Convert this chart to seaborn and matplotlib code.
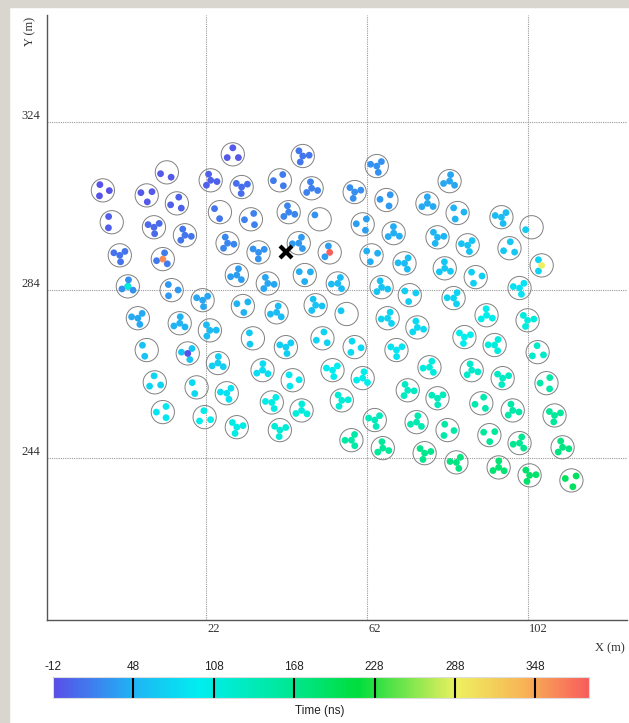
import numpy as np
import pandas as pd
import matplotlib
matplotlib.use("Agg")
import matplotlib.pyplot as plt
import seaborn as sns
from matplotlib.colors import LinearSegmentedColormap, Normalize
from matplotlib.cm import ScalarMappable
from matplotlib.patches import Rectangle
from matplotlib.transforms import ScaledTranslation

# station centres (m)
station_x = [28.6, 46.0, 64.4, 82.5, -3.7, 7.2, 12.2, 23.1, 30.8, 40.3,
             48.2, 58.9, 66.8, 77.0, 84.5, 95.4, 102.9, -1.5, 9.0, 14.7,
             16.7, 25.4, 33.1, 42.5, 50.2, 60.9, 68.6, 79.5, 87.0, 97.4,
             105.4, 0.5, 11.2, 27.3, 35.0, 45.0, 52.7, 63.1, 71.3, 81.3,
             89.0, 99.9, 2.5, 13.4, 21.1, 29.6, 37.3, 46.5, 54.7, 65.6,
             72.6, 83.5, 91.7, 101.9, 5.0, 15.4, 22.9, 31.1, 39.5, 49.2,
             56.9, 67.1, 74.5, 86.2, 93.7, 104.4, 7.2, 17.4, 24.9, 33.6,
             41.8, 50.9, 58.9, 69.3, 77.5, 88.0, 95.7, 106.6, 9.2, 19.6,
             27.1, 36.0, 43.5, 53.4, 60.9, 72.1, 79.5, 90.4, 98.2, 108.6,
             11.2, 21.6, 29.6, 38.3, 45.7, 55.7, 63.9, 74.3, 82.0, 92.4,
             99.9, 110.6, 40.3, 58.1, 65.9, 76.3, 84.2, 94.7, 102.4, 112.8]
station_y = [316.4, 316.0, 313.6, 310.0, 307.8, 306.6, 312.1, 310.2, 308.6, 310.2,
             308.3, 307.4, 305.5, 304.7, 302.4, 301.4, 299.0, 300.2, 299.0, 304.7,
             297.1, 302.6, 300.9, 302.6, 300.9, 299.7, 297.6, 296.6, 294.7, 294.0,
             289.9, 292.3, 291.4, 295.2, 293.0, 295.2, 293.0, 292.3, 290.4, 289.2,
             287.1, 284.5, 284.9, 284.0, 281.6, 287.6, 285.6, 287.6, 285.6, 284.7,
             282.8, 282.1, 278.0, 276.8, 277.3, 276.1, 274.4, 280.2, 278.7, 280.4,
             278.3, 277.3, 275.1, 272.8, 270.9, 269.2, 269.7, 268.9, 266.6, 272.5,
             270.4, 272.5, 270.4, 269.7, 265.6, 264.9, 263.0, 261.8, 262.0, 260.8,
             259.4, 264.9, 262.5, 264.9, 263.0, 260.1, 258.2, 257.0, 255.3, 254.1,
             254.9, 253.7, 251.3, 257.2, 255.3, 257.7, 253.0, 252.5, 250.6, 249.4,
             247.5, 246.5, 250.6, 248.2, 246.3, 245.1, 242.9, 241.7, 239.8, 238.6]
# trigger time per station (ns)
station_t = [-5, 12, 28, 40, -8, -5, -5, 0, 8, 15,
             18, 26, 32, 42, 48, 55, 70, -2, 5, 0,
             12, 12, 18, 22, 28, 36, 45, 50, 60, 65,
             75, 10, 15, 22, 28, 32, 36, 45, 55, 65,
             72, 85, 28, 32, 40, 35, 40, 45, 55, 60,
             70, 75, 100, 110, 42, 48, 55, 48, 55, 60,
             65, 75, 80, 100, 110, 125, 60, 62, 70, 65,
             70, 75, 80, 88, 110, 125, 130, 150, 75, 80,
             85, 82, 90, 95, 100, 130, 135, 145, 150, 160,
             90, 100, 105, 105, 110, 115, 135, 145, 150, 160,
             165, 175, 115, 150, 160, 168, 175, 182, 188, 195]
# detectors hit in each station (of 4)
station_hits = [3, 4, 4, 4, 3, 3, 2, 4, 4, 3,
                4, 4, 3, 4, 3, 4, 1, 2, 4, 3,
                4, 2, 3, 4, 1, 3, 4, 4, 4, 3,
                2, 4, 3, 4, 4, 4, 2, 3, 4, 4,
                3, 4, 4, 3, 4, 4, 4, 3, 4, 4,
                3, 4, 4, 4, 4, 4, 4, 3, 4, 4,
                1, 4, 4, 4, 4, 3, 2, 3, 4, 2,
                4, 3, 3, 4, 4, 4, 4, 3, 3, 2,
                4, 4, 3, 4, 4, 4, 4, 3, 4, 4,
                3, 3, 4, 4, 4, 4, 4, 4, 3, 3,
                4, 4, 4, 4, 4, 4, 4, 4, 4, 3]
# single detectors far off the front
odd_station = [30, 32, 36, 42, 67]
odd_t = [290, 362, 385, 115, -10]

core_x, core_y = 41.8, 293.0

x_ticks = [22, 62, 102]
y_ticks = [244, 284, 324]
cbar_ticks = [-12, 48, 108, 168, 228, 288, 348]
t_min, t_max = -12, 388

cmap = LinearSegmentedColormap.from_list("time", [
    (0.0, "#5a4ee8"), (0.15, "#1fb4f4"), (0.27, "#00eef0"),
    (0.43, "#00e89a"), (0.57, "#00dd3c"), (0.68, "#90e850"),
    (0.755, "#eef060"), (0.88, "#f8b455"), (1.0, "#f85c5c")])
norm = Normalize(t_min, t_max)

# detector layout inside a station
rx, ry = 1.6, 1.55
rows = []
for i, (x, y, t, n) in enumerate(zip(station_x, station_y, station_t, station_hits)):
    rot = (i * 37) % 120
    ang = np.deg2rad(np.array([90, 210, 330]) + rot)
    slots = [(rx * np.cos(a), ry * np.sin(a)) for a in ang] + [(0.0, 0.0)]
    for dx, dy in slots[:n]:
        rows.append({"x": x + dx, "y": y + dy, "t": t})
det = pd.DataFrame(rows)
odd = pd.DataFrame({"x": [station_x[i] for i in odd_station],
                    "y": [station_y[i] for i in odd_station],
                    "t": odd_t})
stations = pd.DataFrame({"x": station_x, "y": station_y})

sns.set_style("white")
plt.rcParams["font.family"] = ["Liberation Serif", "DejaVu Serif"]
plt.rcParams["axes.unicode_minus"] = False

fig = plt.figure(figsize=(6.29, 7.23), dpi=100)
fig.patches.append(Rectangle((0, 0), 9 / 629, 1, transform=fig.transFigure,
                             color="#d9d6cf", zorder=0))
fig.patches.append(Rectangle((0, 1 - 7 / 723), 1, 7 / 723, transform=fig.transFigure,
                             color="#d9d6cf", zorder=0))

ax = fig.add_axes([0.0747, 0.1425, 0.922, 0.8365])
ax.set_facecolor("white")

sns.scatterplot(data=stations, x="x", y="y", s=280, facecolor="none",
                edgecolor="#808080", linewidth=0.7, legend=False, ax=ax, zorder=3)
sns.scatterplot(data=det, x="x", y="y", hue="t", palette=cmap, hue_norm=norm,
                s=24, linewidth=0, legend=False, ax=ax, zorder=4)
sns.scatterplot(data=odd, x="x", y="y", hue="t", palette=cmap, hue_norm=norm,
                s=24, linewidth=0, legend=False, ax=ax, zorder=5)
ax.plot([core_x], [core_y], marker="x", color="black", ms=8, mew=3, zorder=6)

ax.set_xlim(-17.6, 126.6)
ax.set_ylim(205.3, 349.6)
ax.set_xlabel("")
ax.set_ylabel("")
for s in ["top", "right"]:
    ax.spines[s].set_visible(False)
for s in ["left", "bottom"]:
    ax.spines[s].set_color("#555555")
    ax.spines[s].set_linewidth(1.0)

ax.set_xticks(x_ticks)
ax.set_xticklabels([str(v) for v in x_ticks])
ax.set_yticks(y_ticks)
ax.set_yticklabels([str(v) for v in y_ticks])
ax.tick_params(axis="x", direction="out", length=6, color="#888888", pad=-4,
               labelsize=9, labelcolor="#333333")
ax.tick_params(axis="y", direction="out", length=4, color="#888888", pad=1,
               labelsize=9, labelcolor="#333333")
for lab in ax.get_xticklabels():
    lab.set_ha("left")
    lab.set_transform(lab.get_transform() + ScaledTranslation(1 / 72, 0, fig.dpi_scale_trans))
for lab in ax.get_yticklabels():
    lab.set_va("bottom")
ax.grid(True, color="#999999", linestyle=(0, (1, 1)), linewidth=0.8)
ax.set_axisbelow(True)

fig.text(30 / 629, 1 - 31 / 723, "Y (m)", rotation=90, ha="center", va="center",
         fontsize=9, color="#333333")
fig.text(610 / 629, 1 - 648 / 723, "X (m)", ha="center", va="center",
         fontsize=9, color="#333333")

# colour scale
cax = fig.add_axes([53 / 629, 1 - 698 / 723, 536 / 629, 21 / 723])
cb = fig.colorbar(ScalarMappable(norm=norm, cmap=cmap), cax=cax,
                  orientation="horizontal", ticks=cbar_ticks)
cax.xaxis.set_ticks_position("top")
cax.tick_params(length=0, pad=3, labelsize=8.5, labelcolor="#222222")
for lab in cax.get_xticklabels():
    lab.set_family(["Liberation Sans", "DejaVu Sans"])
for t in cbar_ticks:
    cax.axvline(t, color="black", lw=1.5)
cb.outline.set_edgecolor("#dddddd")
fig.text(320 / 629, 1 - 711 / 723, "Time (ns)", ha="center", va="center",
         fontsize=8.5, family=["Liberation Sans", "DejaVu Sans"], color="#222222")

fig.savefig("out.png", dpi=100)
